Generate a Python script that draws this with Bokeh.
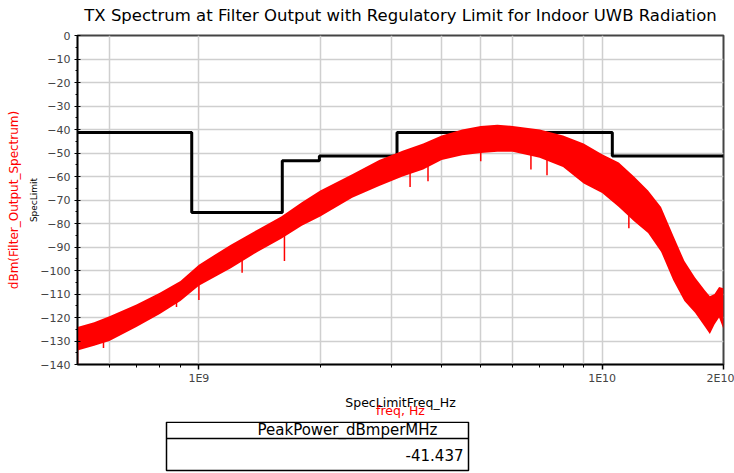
from bokeh.plotting import figure
from bokeh.models import (Range1d, LinearAxis, LogAxis, FixedTicker, SingleIntervalTicker,
                          CustomJSTickFormatter)
from bokeh.layouts import column
from bokeh.core.properties import value
from bokeh.embed import file_html
from bokeh.resources import INLINE

# ---------------- data ----------------
TITLE = "TX Spectrum at Filter Output with Regulatory Limit for Indoor UWB Radiation"

spec_limit_freq_hz = [5.0e8, 0.96e9, 1.61e9, 1.99e9, 3.1e9, 10.6e9, 2.0e10]
spec_limit_dbm = [-41.3, -75.3, -53.3, -51.3, -41.3, -51.3, -51.3]

spectrum_freq_hz = [5.0e8, 5.5e8, 6.0e8, 7.0e8, 8.0e8, 9.0e8, 1.0e9, 1.2e9, 1.4e9, 1.6e9,
                    1.8e9, 2.0e9, 2.4e9, 2.8e9, 3.2e9, 3.6e9, 4.0e9, 4.5e9, 5.0e9, 5.5e9,
                    6.0e9, 7.0e9, 8.0e9, 9.0e9, 1.0e10, 1.1e10, 1.2e10, 1.3e10, 1.4e10,
                    1.5e10, 1.6e10, 1.7e10, 1.8e10, 1.85e10, 1.9e10, 1.95e10, 2.0e10]
spectrum_upper_dbm = [-124, -122, -119.5, -114.5, -109.5, -104.5, -97.5, -89, -82.5, -77,
                      -71, -66, -59, -53, -49, -46, -42.5, -40, -38.5, -38,
                      -38.5, -40, -42.5, -46, -50.5, -54, -60, -66, -73,
                      -85, -96, -103, -108.5, -111, -110, -107, -107.5]
spectrum_lower_dbm = [-134, -132, -130, -124, -118.5, -113, -106.5, -99, -92, -86.5,
                      -81, -77, -69, -64, -60, -57, -53, -51, -50, -49.5,
                      -49.5, -52, -56, -63, -67, -73, -79, -84, -92,
                      -104, -113, -118, -124, -127, -123, -120, -125]

spike_freq_hz = [5.0e8, 5.8e8, 8.8e8, 1.0e9, 1.28e9, 1.63e9, 3.34e9, 3.7e9, 5.0e9, 6.66e9, 7.3e9, 1.165e10]
spike_top_dbm = [-128, -127, -110, -104, -95, -84, -56, -52, -46, -46, -49, -72]
spike_bottom_dbm = [-140, -133, -115.5, -112.5, -101, -96, -64.5, -62, -53.5, -57, -59.5, -82]

x_major_ticks = [1e9, 1e10, 2e10]
x_minor_ticks = [6e8, 7e8, 8e8, 9e8, 2e9, 3e9, 4e9, 5e9, 6e9, 7e9, 8e9, 9e9]
x_grid_ticks = [6e8, 1e9, 2e9, 3e9, 4e9, 5e9, 6e9, 9e9, 1e10]

peak_power_label = "PeakPower_dBmperMHz"
peak_power_value = -41.437

# ---------------- styling ----------------
FONT = "DejaVu Sans"
GRID = "#cfcfcf"

# ---------------- title strip (coordinates = page pixels) ----------------
h = figure(width=734, height=30, x_range=Range1d(77, 723), y_range=Range1d(30, 0),
           output_backend="svg", toolbar_location=None, min_border=0,
           x_axis_location=None, y_axis_location=None)
h.outline_line_color = None
h.grid.visible = False
h.text(x=[400], y=[15], text=[TITLE], text_align="center", text_baseline="middle",
       text_font=value(FONT), text_font_size="16.5px", text_color="black")

# ---------------- main plot ----------------
p = figure(width=734, height=391, x_axis_type="log",
           x_range=Range1d(5e8, 2e10), y_range=Range1d(-140, 0),
           output_backend="svg", toolbar_location=None,
           min_border_left=77, min_border_right=11, min_border_top=5, min_border_bottom=57)

p.outline_line_color = "#444444"
p.outline_line_width = 2

# bottom axis
xa = p.xaxis[0]
xa.ticker = FixedTicker(ticks=x_major_ticks, minor_ticks=x_minor_ticks)
xa.formatter = CustomJSTickFormatter(code="""
const e = Math.floor(Math.log10(tick) + 1e-6);
const m = Math.round(tick / Math.pow(10, e));
return m + "E" + e;
""")
xa.axis_label = "SpecLimitFreq_Hz"
xa.axis_label_text_font = FONT
xa.axis_label_text_font_size = "12.5px"
xa.axis_label_text_font_style = "normal"
xa.axis_label_text_color = "black"
xa.axis_label_standoff = 7
xa.major_label_text_font = FONT
xa.major_label_text_font_size = "11px"
xa.major_label_standoff = 2
xa.major_tick_out = 5
xa.major_tick_in = 0
xa.minor_tick_out = 3
xa.minor_tick_in = 0
xa.axis_line_color = "black"
xa.axis_line_width = 1.5
xa.major_tick_line_width = 1.5

xa2 = LogAxis(ticker=FixedTicker(ticks=[]), axis_label="freq, Hz",
              axis_label_text_color="red", axis_label_text_font=FONT,
              axis_label_text_font_size="12.5px", axis_label_text_font_style="normal",
              axis_label_standoff=-10, major_tick_out=0, major_tick_in=0,
              minor_tick_out=0, minor_tick_in=0, major_label_standoff=0,
              axis_line_color=None)
p.add_layout(xa2, "below")

# left axis
ya = p.yaxis[0]
ya.ticker = SingleIntervalTicker(interval=10, num_minor_ticks=2)
ya.axis_label = "SpecLimit"
ya.axis_label_text_font = FONT
ya.axis_label_text_font_size = "9px"
ya.axis_label_text_font_style = "normal"
ya.axis_label_text_color = "black"
ya.axis_label_standoff = -2
ya.major_label_text_font = FONT
ya.major_label_text_font_size = "11px"
ya.major_label_standoff = 4
ya.major_tick_out = 3
ya.major_tick_in = 3
ya.minor_tick_out = 2
ya.minor_tick_in = 0
ya.axis_line_color = "black"
ya.axis_line_width = 1.5

ya2 = LinearAxis(ticker=FixedTicker(ticks=[]), axis_label="dBm(Filter_Output_Spectrum)",
                 axis_label_text_color="red", axis_label_text_font=FONT,
                 axis_label_text_font_size="12px", axis_label_text_font_style="normal",
                 axis_label_standoff=6, major_tick_out=0, major_tick_in=0,
                 minor_tick_out=0, minor_tick_in=0, major_label_standoff=0,
                 axis_line_color=None)
p.add_layout(ya2, "left")

# grid
p.xgrid.ticker = FixedTicker(ticks=x_grid_ticks)
p.xgrid.grid_line_color = GRID
p.xgrid.grid_line_width = 1.5
p.ygrid.grid_line_color = GRID
p.ygrid.grid_line_width = 1.5

# spec limit (black step)
p.step(x=spec_limit_freq_hz, y=spec_limit_dbm, mode="after", line_color="black", line_width=3)

# spectrum band (red)
p.varea(x=spectrum_freq_hz, y1=spectrum_lower_dbm, y2=spectrum_upper_dbm, fill_color="red")
p.segment(x0=spike_freq_hz, y0=spike_top_dbm, x1=spike_freq_hz, y1=spike_bottom_dbm,
          line_color="red", line_width=1.5)

# ---------------- table below (coordinates = page pixels) ----------------
t = figure(width=734, height=52, x_range=Range1d(77, 723), y_range=Range1d(52, 0),
           output_backend="svg", toolbar_location=None, min_border=0,
           x_axis_location=None, y_axis_location=None)
t.outline_line_color = None
t.grid.visible = False
t.quad(left=[166], right=[468], top=[0.8], bottom=[49], fill_color=None,
       line_color="black", line_width=1.5)
t.segment(x0=[166], y0=[17], x1=[468], y1=[17], line_color="black", line_width=1.5)
t.text(x=[347], y=[8.8], text=[peak_power_label], text_align="center", text_baseline="middle",
       text_font=value(FONT), text_font_size="15px", text_color="black")
t.text(x=[463], y=[33], text=[f"{peak_power_value:.3f}"], text_align="right",
       text_baseline="middle", text_font=value(FONT), text_font_size="15px", text_color="black")

layout = column(h, p, t, spacing=0)
open("out.html", "w").write(file_html(layout, INLINE))
